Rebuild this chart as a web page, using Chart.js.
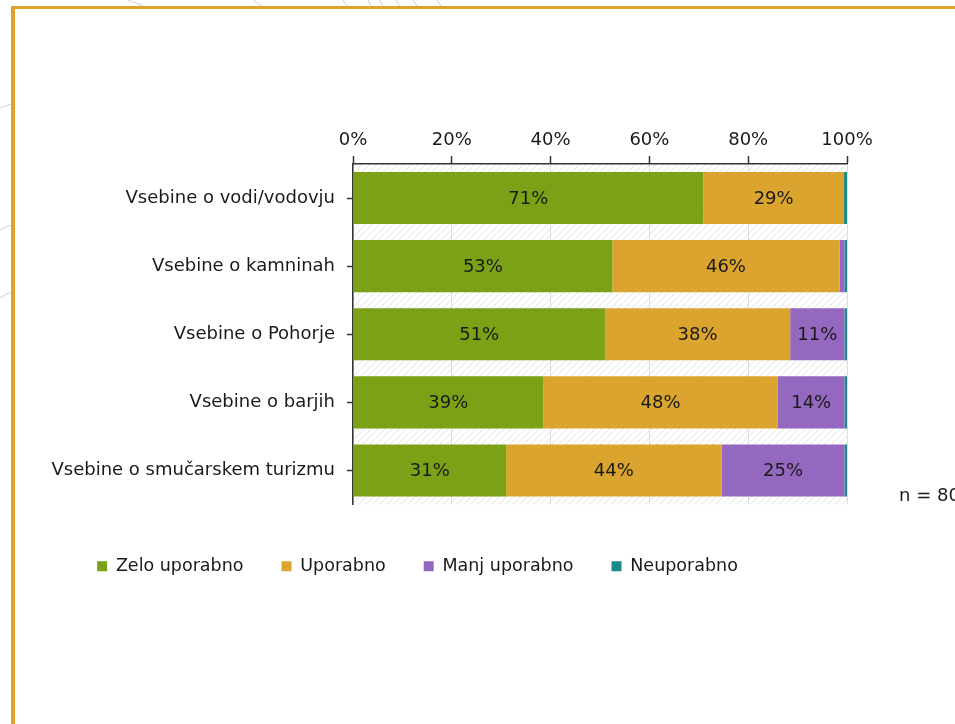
<!DOCTYPE html>
<html>
<head>
<meta charset="utf-8">
<script src="https://cdn.jsdelivr.net/npm/chart.js@4/dist/chart.umd.min.js"></script>
<style>
  html, body { margin: 0; padding: 0; width: 955px; height: 724px; overflow: hidden; background: #fff; }
  #deco { position: absolute; left: 0; top: 0; }
  #frame { position: absolute; left: 11px; top: 6px; width: 960px; height: 740px;
           border-top: 3px solid #dba42e; border-left: 4px solid #dba42e; box-sizing: border-box; }
  #c { position: absolute; left: -12px; top: 0; }
</style>
</head>
<body>
<svg id="deco" width="955" height="724">
  <g stroke="#cfcfcf" stroke-width="1" fill="none">
    <path d="M128 0 Q136 3 143 6"/>
    <path d="M253 0 Q258 3 262 6"/>
    <path d="M343 0 Q345 3 347 6"/>
    <path d="M368 0 Q369 3 371 6"/>
    <path d="M380 0 Q381 3 383 6"/>
    <path d="M396 0 Q398 3 400 6"/>
    <path d="M413 0 Q415 3 417 6"/>
    <path d="M437 0 Q439 3 441 6"/>
    <path d="M0 108 Q5 106 11 104"/>
    <path d="M0 230 Q5 227 11 225"/>
    <path d="M0 298 Q5 295 11 292"/>
  </g>
</svg>
<div id="frame"></div>
<canvas id="c" width="967" height="724"></canvas>
<script>
const categories = [
  'Vsebine o vodi/vodovju',
  'Vsebine o kamninah',
  'Vsebine o Pohorje',
  'Vsebine o barjih',
  'Vsebine o smučarskem turizmu'
];
const seriesNames = ['Zelo uporabno', 'Uporabno', 'Manj uporabno', 'Neuporabno'];
const zeloUporabno  = [70.9, 52.5, 51.0, 38.5, 31.0];
const uporabno      = [28.5, 46.0, 37.5, 47.5, 43.6];
const manjUporabno  = [0.0, 1.0, 11.0, 13.5, 24.9];
const neuporabno    = [0.6, 0.5, 0.5, 0.5, 0.5];
const tickValues = [0, 20, 40, 60, 80, 100];
const sampleNote = 'n = 80';

const seriesColors = ['#7ba117', '#dba42e', '#9568c0', '#198a85'];
const FONT = 'DejaVu Sans';
const TEXT = '#1a1a1a';

function hatchPattern(ctx) {
  const p = document.createElement('canvas');
  p.width = 7; p.height = 7;
  const g = p.getContext('2d');
  g.strokeStyle = '#e2e2e2';
  g.lineWidth = 1;
  g.beginPath();
  g.moveTo(-1, 8); g.lineTo(8, -1);
  g.stroke();
  return ctx.createPattern(p, 'repeat');
}

const hatchPlugin = {
  id: 'hatch',
  beforeDraw(chart) {
    const {ctx, chartArea: a} = chart;
    ctx.save();
    ctx.fillStyle = hatchPattern(ctx);
    ctx.fillRect(a.left, a.top, a.right - a.left, a.bottom - a.top);
    ctx.restore();
  }
};

const labelPlugin = {
  id: 'barLabels',
  afterDatasetsDraw(chart) {
    const {ctx} = chart;
    ctx.save();
    ctx.font = '18px "' + FONT + '"';
    ctx.fillStyle = TEXT;
    ctx.textAlign = 'center';
    ctx.textBaseline = 'middle';
    chart.data.datasets.forEach((ds, di) => {
      const meta = chart.getDatasetMeta(di);
      meta.data.forEach((el, i) => {
        const v = ds.data[i];
        if (v >= 5) {
          ctx.fillText(Math.round(v) + '%', (el.x + el.base) / 2, el.y + 1);
        }
      });
    });
    const a = chart.chartArea;
    ctx.textAlign = 'left';
    ctx.fillText(sampleNote, a.right + 52, a.bottom - 8);
    ctx.restore();
  }
};

const seriesData = [zeloUporabno, uporabno, manjUporabno, neuporabno];

new Chart(document.getElementById('c'), {
  type: 'bar',
  data: {
    labels: categories,
    datasets: seriesNames.map((name, i) => ({
      label: name,
      data: seriesData[i],
      backgroundColor: seriesColors[i],
      borderWidth: 0,
      xAxisID: 'x',
      yAxisID: 'y',
      barPercentage: 0.765,
      categoryPercentage: 1.0
    }))
  },
  options: {
    indexAxis: 'y',
    responsive: false,
    animation: false,
    devicePixelRatio: 1,
    layout: { padding: { left: 0, right: 108, top: 0, bottom: 139 } },
    scales: {
      x: {
        type: 'linear',
        position: 'top',
        stacked: true,
        min: 0,
        max: 100,
        afterBuildTicks(s) { s.ticks = tickValues.map(v => ({ value: v })); },
        afterFit(s) { s.height = 164; },
        ticks: {
          callback: v => v + '%',
          font: { family: FONT, size: 18 },
          color: TEXT,
          padding: 5,
          maxRotation: 0
        },
        grid: {
          color: '#dddddd',
          tickColor: '#333333',
          tickLength: 8,
          lineWidth: 1,
          tickWidth: 1.5
        },
        border: { color: '#333333', width: 1.5 }
      },
      xb: {
        type: 'linear',
        position: 'bottom',
        display: true,
        ticks: { display: false },
        grid: { display: false, drawTicks: false },
        border: { display: false },
        afterFit(s) { s.height = 15; }
      },
      y: {
        type: 'category',
        stacked: true,
        afterFit(s) { s.width = 365; },
        ticks: {
          font: { family: FONT, size: 18 },
          color: TEXT,
          padding: 12
        },
        grid: {
          offset: false,
          drawOnChartArea: false,
          tickColor: '#333333',
          tickLength: 6,
          tickWidth: 1.5
        },
        border: { color: '#333333', width: 1.5 }
      }
    },
    plugins: {
      legend: {
        position: 'bottom',
        align: 'center',
        labels: {
          boxWidth: 10,
          boxHeight: 10,
          padding: 38,
          color: TEXT,
          font: { family: FONT, size: 17.5 }
        }
      },
      tooltip: { enabled: false },
      title: { display: false }
    }
  },
  plugins: [hatchPlugin, labelPlugin]
});
</script>
</body>
</html>
